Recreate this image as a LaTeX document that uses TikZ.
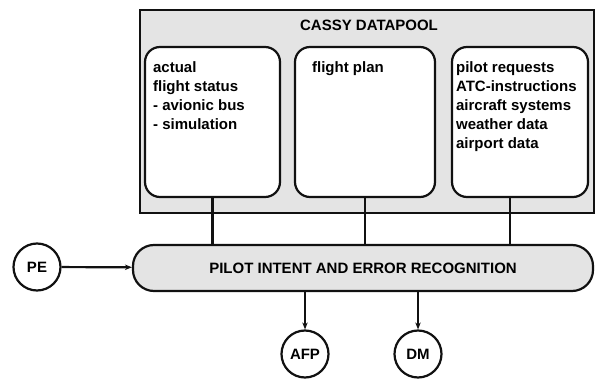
\documentclass[tikz,border=0pt]{standalone}
\usepackage{fontspec}
\setmainfont{Liberation Sans}
\usetikzlibrary{arrows.meta,positioning}
\definecolor{poolGray}{HTML}{E4E4E4}
\definecolor{lineBlack}{HTML}{111111}

\begin{document}
\begin{tikzpicture}[x=1pt, y=1pt, >={Stealth[length=7pt,width=5.5pt]},
    font=\bfseries\fontsize{15}{19}\selectfont,
    databox/.style={draw=lineBlack, line width=2.2pt, fill=white, rounded corners=15pt, minimum width=#1, minimum height=150pt},
    boxtext/.style={anchor=north west, align=left, inner sep=0pt},
    agent/.style={draw=lineBlack, line width=2.2pt, circle, fill=white, minimum size=47pt, inner sep=0pt},
    link/.style={line width=2.2pt, draw=lineBlack}]
    \useasboundingbox (0,0) rectangle (597,378);

    % datapool frame
    \node[draw=lineBlack, line width=1.8pt, fill=poolGray, minimum width=454pt, minimum height=203pt] (pool) at (367,266.5) {};
    \node (pooltitle) at (369,353) {CASSY DATAPOOL};

    \node[databox=135pt] (status) at (212.5,256) {};
    \node[boxtext] (statustext) at ([shift={(9,-16)}]status.north west) {actual\\flight status\\- avionic bus\\- simulation};
    \node[databox=140pt] (plan) at (365,256) {};
    \node[boxtext] (plantext) at ([shift={(18,-16)}]plan.north west) {flight plan};
    \node[databox=136pt] (requests) at (520,256) {};
    \node[boxtext] (requeststext) at ([shift={(5,-16)}]requests.north west) {pilot requests\\ATC-instructions\\aircraft systems\\weather data\\airport data};

    % recognition module
    \node[draw=lineBlack, line width=2.2pt, fill=poolGray, rounded corners=21pt, minimum width=460pt, minimum height=46pt] (pier) at (363,110) {PILOT INTENT AND ERROR RECOGNITION};

    \node[agent] (pe) at (37,111) {PE};
    \node[agent] (afp) at (305,24) {AFP};
    \node[agent] (dm) at (418,24) {DM};

    \draw[link] (status.south) -- (status.south |- pier.north);
    \draw[link] (plan.south) -- (plan.south |- pier.north);
    \draw[link] ([xshift=-10pt]requests.south) -- ([xshift=-10pt]requests.south |- pier.north);
    \draw[link,->] (pe) -- (pier);
    \draw[link,->] (pier.south -| afp) -- (afp);
    \draw[link,->] (pier.south -| dm) -- (dm);
\end{tikzpicture}
\end{document}
